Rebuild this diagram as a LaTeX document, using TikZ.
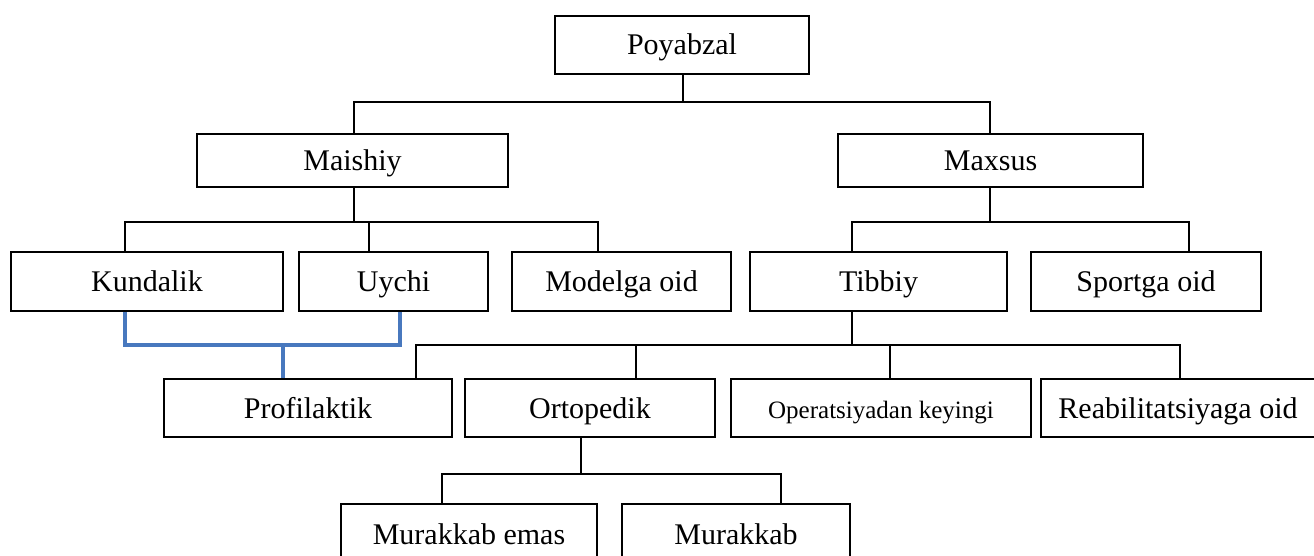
\documentclass[tikz,border=0pt]{standalone}
\usepackage{fontspec}
\setmainfont{Liberation Serif}
\definecolor{linkblue}{RGB}{72,120,190}
\begin{document}
\begin{tikzpicture}[x=1pt,y=-1pt,
  box/.style={draw=black,line width=2pt,fill=white,inner sep=0pt,
    text height=22pt,text depth=2pt,
    font=\fontsize{30}{34}\selectfont},
  tline/.style={draw=black,line width=1.6pt},
  bline/.style={draw=linkblue,line width=4.5pt}]
\useasboundingbox (0,0) rectangle (1314,556);
% boxes
\node[box,minimum width=254,minimum height=58] (poy) at (682,45) {Poyabzal};
\node[box,minimum width=311,minimum height=53] (mai) at (352.5,160.5) {Maishiy};
\node[box,minimum width=305,minimum height=53] (max) at (990.5,160.5) {Maxsus};
\node[box,minimum width=272,minimum height=59] (kun) at (147,281.5) {Kundalik};
\node[box,minimum width=189,minimum height=59] (uy) at (393.5,281.5) {Uychi};
\node[box,minimum width=219,minimum height=59] (mod) at (621.5,281.5) {Modelga oid};
\node[box,minimum width=257,minimum height=59] (tib) at (878.5,281.5) {Tibbiy};
\node[box,minimum width=230,minimum height=59] (spo) at (1146,281.5) {Sportga oid};
\node[box,minimum width=288,minimum height=58] (pro) at (308,408) {Profilaktik};
\node[box,minimum width=250,minimum height=58] (ort) at (590,408) {Ortopedik};
\node[box,minimum width=300,minimum height=58,font=\fontsize{25}{29}\selectfont] (ope) at (881,408) {Operatsiyadan keyingi};
\node[box,minimum width=274,minimum height=58] (rea) at (1178,408) {Reabilitatsiyaga oid};
\node[box,minimum width=256,minimum height=60,anchor=north] (mue) at (469,503) {Murakkab emas};
\node[box,minimum width=228,minimum height=60,anchor=north] (mur) at (736,503) {Murakkab};
% level 1
\coordinate (h0) at (683,102);
\coordinate (h0a) at (354,102);
\coordinate (h0b) at (990,102);
\draw[tline] (h0 |- poy.south) -- (h0);
\draw[tline] (h0a |- mai.north) -- (h0a) -- (h0b) -- (h0b |- max.north);
% Maishiy children
\coordinate (h1) at (354,222);
\coordinate (h1a) at (125,222);
\coordinate (h1b) at (369,222);
\coordinate (h1c) at (598,222);
\draw[tline] (h1 |- mai.south) -- (h1);
\draw[tline] (h1a |- kun.north) -- (h1a) -- (h1c) -- (h1c |- mod.north);
\draw[tline] (h1b) -- (h1b |- uy.north);
% Maxsus children
\coordinate (h2) at (990,222);
\coordinate (h2a) at (852,222);
\coordinate (h2b) at (1189,222);
\draw[tline] (h2 |- max.south) -- (h2);
\draw[tline] (h2a |- tib.north) -- (h2a) -- (h2b) -- (h2b |- spo.north);
% Tibbiy children
\coordinate (h3) at (852,345);
\coordinate (h3a) at (416,345);
\coordinate (h3b) at (636,345);
\coordinate (h3c) at (890,345);
\coordinate (h3d) at (1180,345);
\draw[tline] (h3 |- tib.south) -- (h3);
\draw[tline] (h3a |- pro.north) -- (h3a) -- (h3d) -- (h3d |- rea.north);
\draw[tline] (h3b) -- (h3b |- ort.north);
\draw[tline] (h3c) -- (h3c |- ope.north);
% Ortopedik children
\coordinate (h4) at (581,474);
\coordinate (h4a) at (442,474);
\coordinate (h4b) at (781,474);
\draw[tline] (h4 |- ort.south) -- (h4);
\draw[tline] (h4a |- mue.north) -- (h4a) -- (h4b) -- (h4b |- mur.north);
% blue link
\coordinate (b1) at (125,345);
\coordinate (b2) at (400,345);
\coordinate (b3) at (283,345);
\draw[bline] (b1 |- kun.south) -- (b1) -- (b2) -- (b2 |- uy.south);
\draw[bline] (b3) -- (b3 |- pro.north);
\end{tikzpicture}
\end{document}
